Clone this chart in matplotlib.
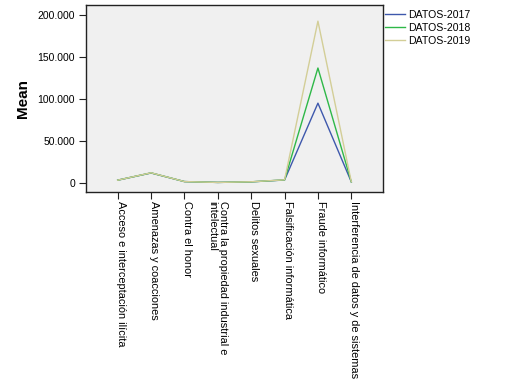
import matplotlib

matplotlib.use("Agg")
import matplotlib.pyplot as plt
from matplotlib.ticker import FuncFormatter

plt.rcParams["font.family"] = ["Liberation Sans", "DejaVu Sans"]

categories = [
    "Acceso e interceptación ilícita",
    "Amenazas y coacciones",
    "Contra el honor",
    "Contra la propiedad industrial e\nintelectual",
    "Delitos sexuales",
    "Falsificación informática",
    "Fraude informático",
    "Interferencia de datos y de sistemas",
]
datos_2017 = [3000, 11600, 1300, 300, 1000, 3200, 95000, 1000]
datos_2018 = [3000, 11700, 1300, 300, 1000, 3300, 137000, 1000]
datos_2019 = [3000, 11800, 1300, 300, 1100, 3400, 193000, 1100]
series = [("DATOS-2017", datos_2017, "#3E58AC"),
          ("DATOS-2018", datos_2018, "#2EB848"),
          ("DATOS-2019", datos_2019, "#D3CE97")]

fig = plt.figure(figsize=(5.12, 3.85), dpi=100)
ax = fig.add_axes([86 / 512, 1 - 192.3 / 385, (383 - 86) / 512, (192.3 - 5) / 385])
ax.set_facecolor("#F0F0F0")

x = list(range(len(categories)))
for name, vals, col in series:
    ax.plot(x, vals, color=col, lw=1.0, label=name)

ax.set_xlim(-0.95, 7.95)
ax.set_ylim(-11500, 212300)
ax.set_yticks([0, 50000, 100000, 150000, 200000])
ax.yaxis.set_major_formatter(FuncFormatter(lambda v, p: f"{int(v):,}".replace(",", ".")))
ax.set_xticks(x)
ax.set_xticklabels(categories, rotation=-90, rotation_mode="anchor",
                   ha="left", va="baseline", fontsize=7.9, linespacing=1.15)
for lbl in ax.get_xticklabels():
    if "\n" in lbl.get_text():
        lbl.set_verticalalignment("center")
ax.tick_params(axis="both", direction="out", length=5, width=0.8, color="#222222")
ax.tick_params(axis="x", pad=1)
ax.tick_params(axis="y", labelsize=7.5, pad=3)
for s in ax.spines.values():
    s.set_color("#222222")
    s.set_linewidth(1.0)

ax.set_ylabel("Mean", fontsize=11, fontweight="bold", labelpad=5)

ax.legend(loc="upper left", bbox_to_anchor=(1.0, 0.987), frameon=False, fontsize=7.6,
          handlelength=1.9, handletextpad=0.25, labelspacing=0.3, borderaxespad=0,
          borderpad=0.2)

fig.savefig("out.png", dpi=100)
